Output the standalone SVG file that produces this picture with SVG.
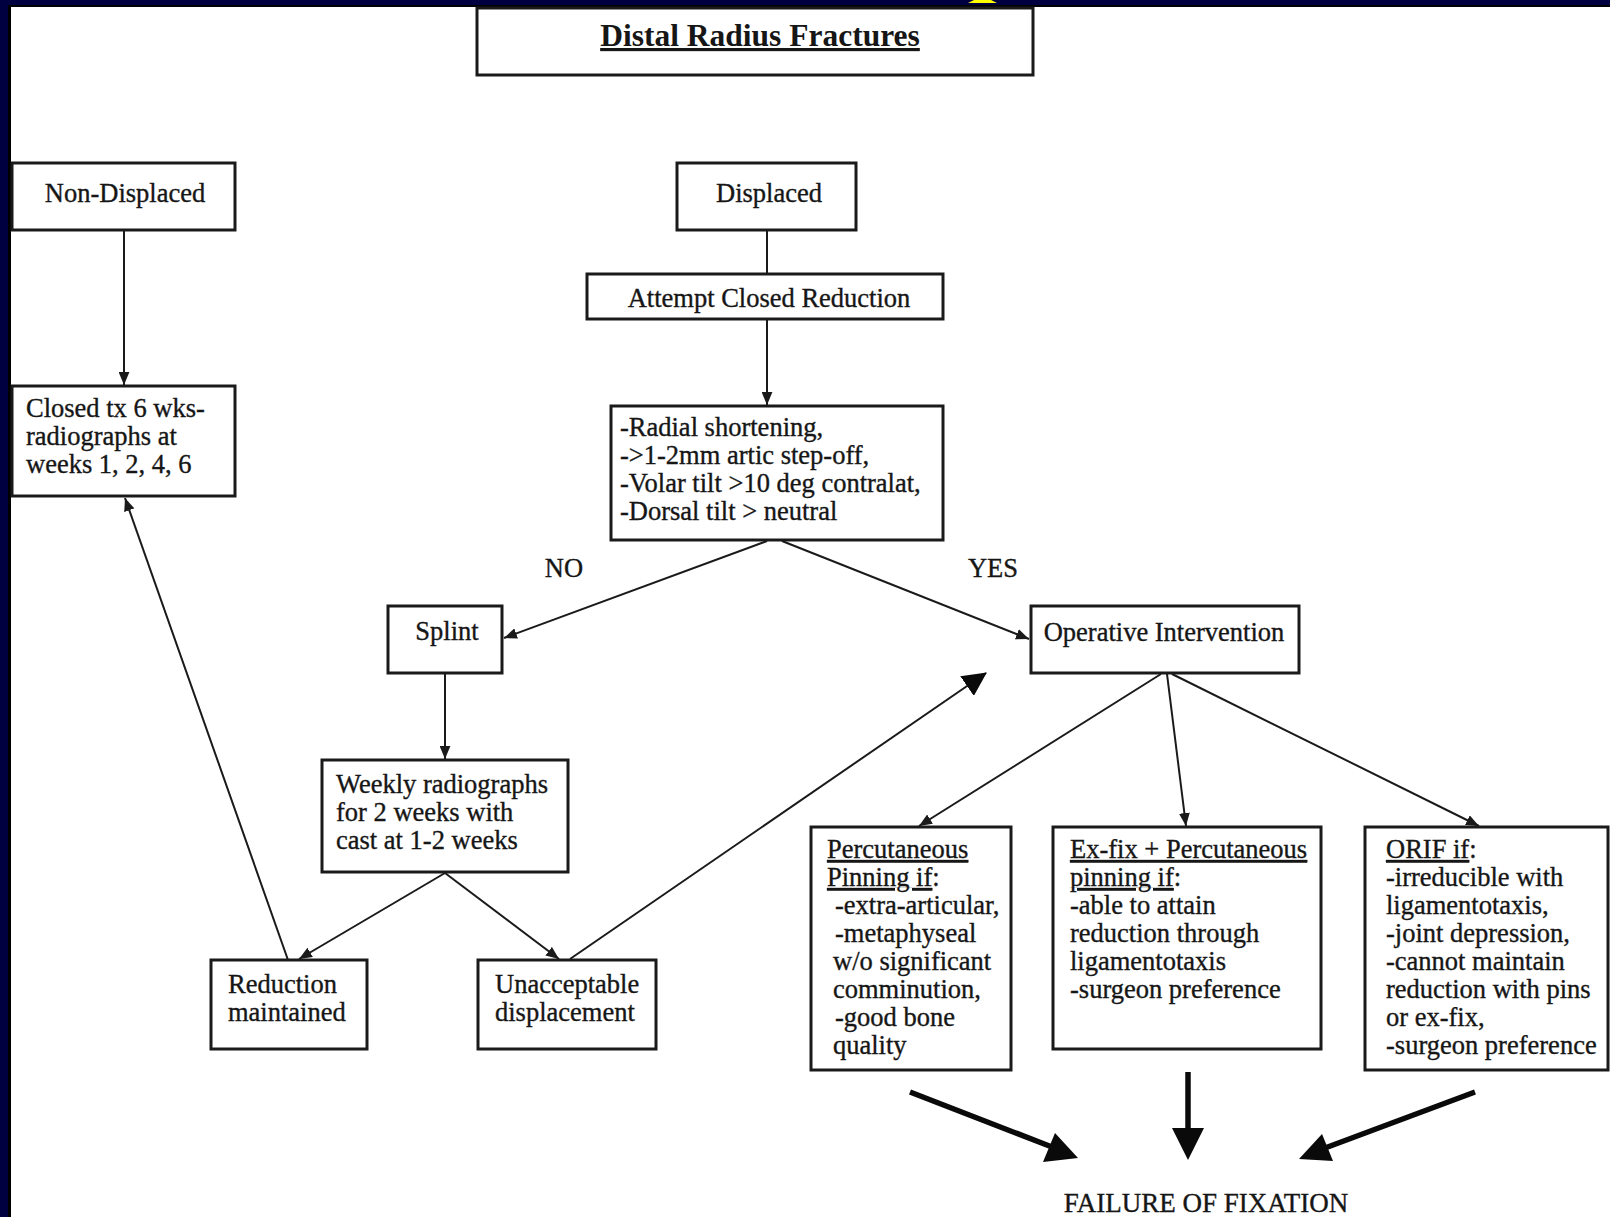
<svg xmlns="http://www.w3.org/2000/svg" width="1610" height="1217" viewBox="0 0 1610 1217">
<style>
.box{fill:#fff;stroke:#1a1a1a;stroke-width:3}
.t{font-family:"Liberation Serif","Times New Roman",serif;font-size:26.5px;fill:#161616;stroke:#161616;stroke-width:0.35}
.c{text-anchor:middle}
.ttl{font-family:"Liberation Serif","Times New Roman",serif;font-size:31.5px;font-weight:bold;fill:#161616;text-anchor:middle}
.u{text-decoration:underline}
.ln{stroke:#1a1a1a;stroke-width:2;fill:none}
.bold{stroke:#0a0a0a;stroke-width:5.5;fill:none}
.hd{fill:#0a0a0a}
</style>
<defs>
<marker id="a" viewBox="0 0 12 10" refX="12" refY="5" markerWidth="13" markerHeight="11" markerUnits="userSpaceOnUse" orient="auto"><path d="M0,0 L12,5 L0,10 z" fill="#1a1a1a"/></marker>
<marker id="big" viewBox="0 0 24 24" refX="23" refY="12" markerWidth="24" markerHeight="24" markerUnits="userSpaceOnUse" orient="auto"><path d="M0,0 L24,12 L0,24 z" fill="#0a0a0a"/></marker>
</defs>
<rect x="0" y="0" width="1610" height="1217" fill="#000040"/>
<rect x="8" y="5" width="1602" height="1212" fill="#000000"/>
<rect x="11" y="7" width="1599" height="1210" fill="#ffffff"/>
<polygon points="968,3 997,3 991,0 974,0" fill="#ffff00"/>

<g id="title">
<rect class="box" x="477" y="8" width="556" height="67"/>
<text class="ttl u" x="760" y="46">Distal Radius Fractures</text>
</g>
<g id="non-displaced">
<rect class="box" x="12" y="163" width="223" height="67"/>
<text class="t c" x="125" y="202">Non-Displaced</text>
</g>
<g id="closed-tx">
<rect class="box" x="12" y="386" width="223" height="110"/>
<text class="t" x="26" y="417">Closed tx 6 wks-</text>
<text class="t" x="26" y="445">radiographs at</text>
<text class="t" x="26" y="473">weeks 1, 2, 4, 6</text>
</g>
<g id="displaced">
<rect class="box" x="677" y="163" width="179" height="67"/>
<text class="t c" x="769" y="202">Displaced</text>
</g>
<g id="attempt">
<rect class="box" x="587" y="274" width="356" height="45"/>
<text class="t c" x="769" y="307">Attempt Closed Reduction</text>
</g>
<g id="criteria">
<rect class="box" x="611" y="406" width="332" height="134"/>
<text class="t" x="620" y="436">-Radial shortening,</text>
<text class="t" x="620" y="464">-&gt;1-2mm artic step-off,</text>
<text class="t" x="620" y="492">-Volar tilt &gt;10 deg contralat,</text>
<text class="t" x="620" y="520">-Dorsal tilt &gt; neutral</text>
</g>
<g id="splint">
<rect class="box" x="388" y="606" width="114" height="67"/>
<text class="t c" x="447" y="640">Splint</text>
</g>
<g id="weekly">
<rect class="box" x="322" y="760" width="246" height="112"/>
<text class="t" x="336" y="793">Weekly radiographs</text>
<text class="t" x="336" y="821">for 2 weeks with</text>
<text class="t" x="336" y="849">cast at 1-2 weeks</text>
</g>
<g id="reduction">
<rect class="box" x="211" y="960" width="156" height="89"/>
<text class="t" x="228" y="993">Reduction</text>
<text class="t" x="228" y="1021">maintained</text>
</g>
<g id="unacceptable">
<rect class="box" x="478" y="960" width="178" height="89"/>
<text class="t" x="495" y="993">Unacceptable</text>
<text class="t" x="495" y="1021">displacement</text>
</g>
<g id="operative">
<rect class="box" x="1031" y="606" width="268" height="67"/>
<text class="t c" x="1164" y="641">Operative Intervention</text>
</g>
<g id="percutaneous">
<rect class="box" x="811" y="827" width="200" height="243"/>
<text class="t" x="827" y="858"><tspan class="u">Percutaneous</tspan></text>
<text class="t" x="827" y="886"><tspan class="u">Pinning if</tspan>:</text>
<text class="t" x="835" y="914">-extra-articular,</text>
<text class="t" x="835" y="942">-metaphyseal</text>
<text class="t" x="833" y="970">w/o significant</text>
<text class="t" x="833" y="998">comminution,</text>
<text class="t" x="835" y="1026">-good bone</text>
<text class="t" x="833" y="1054">quality</text>
</g>
<g id="exfix">
<rect class="box" x="1053" y="827" width="268" height="222"/>
<text class="t" x="1070" y="858"><tspan class="u">Ex-fix + Percutaneous</tspan></text>
<text class="t" x="1070" y="886"><tspan class="u">pinning if</tspan>:</text>
<text class="t" x="1070" y="914">-able to attain</text>
<text class="t" x="1070" y="942">reduction through</text>
<text class="t" x="1070" y="970">ligamentotaxis</text>
<text class="t" x="1070" y="998">-surgeon preference</text>
</g>
<g id="orif">
<rect class="box" x="1365" y="827" width="243" height="243"/>
<text class="t" x="1386" y="858"><tspan class="u">ORIF if</tspan>:</text>
<text class="t" x="1386" y="886">-irreducible with</text>
<text class="t" x="1386" y="914">ligamentotaxis,</text>
<text class="t" x="1386" y="942">-joint depression,</text>
<text class="t" x="1386" y="970">-cannot maintain</text>
<text class="t" x="1386" y="998">reduction with pins</text>
<text class="t" x="1386" y="1026">or ex-fix,</text>
<text class="t" x="1386" y="1054">-surgeon preference</text>
</g>
<g id="labels">
<text class="t c" x="564" y="577">NO</text>
<text class="t c" x="993" y="577">YES</text>
<text class="t c" x="1206" y="1212" style="font-size:27px">FAILURE OF FIXATION</text>
</g>

<g id="connectors">
<line class="ln" x1="124" y1="230" x2="124" y2="385" marker-end="url(#a)"/>
<line class="ln" x1="767" y1="230" x2="767" y2="274"/>
<line class="ln" x1="767" y1="319" x2="767" y2="405" marker-end="url(#a)"/>
<line class="ln" x1="767" y1="541" x2="504" y2="638" marker-end="url(#a)"/>
<line class="ln" x1="782" y1="541" x2="1029" y2="639" marker-end="url(#a)"/>
<line class="ln" x1="445" y1="673" x2="445" y2="759" marker-end="url(#a)"/>
<line class="ln" x1="445" y1="873" x2="299" y2="959" marker-end="url(#a)"/>
<line class="ln" x1="445" y1="873" x2="559" y2="959" marker-end="url(#a)"/>
<line class="ln" x1="288" y1="960" x2="125" y2="498" marker-end="url(#a)"/>
<line class="ln" x1="570" y1="959" x2="986" y2="673" marker-end="url(#big)"/>
<line class="ln" x1="1161" y1="674" x2="919" y2="826" marker-end="url(#a)"/>
<line class="ln" x1="1167" y1="674" x2="1186" y2="826" marker-end="url(#a)"/>
<line class="ln" x1="1172" y1="674" x2="1479" y2="826" marker-end="url(#a)"/>
<line class="bold" x1="910" y1="1092" x2="1052" y2="1147"/>
<polygon class="hd" points="1078,1158 1043,1162 1055,1133"/>
<line class="bold" x1="1188" y1="1072" x2="1188" y2="1130"/>
<polygon class="hd" points="1172,1128 1204,1128 1188,1160"/>
<line class="bold" x1="1475" y1="1092" x2="1325" y2="1148"/>
<polygon class="hd" points="1299,1159 1322,1134 1333,1161"/>
</g>
</svg>
